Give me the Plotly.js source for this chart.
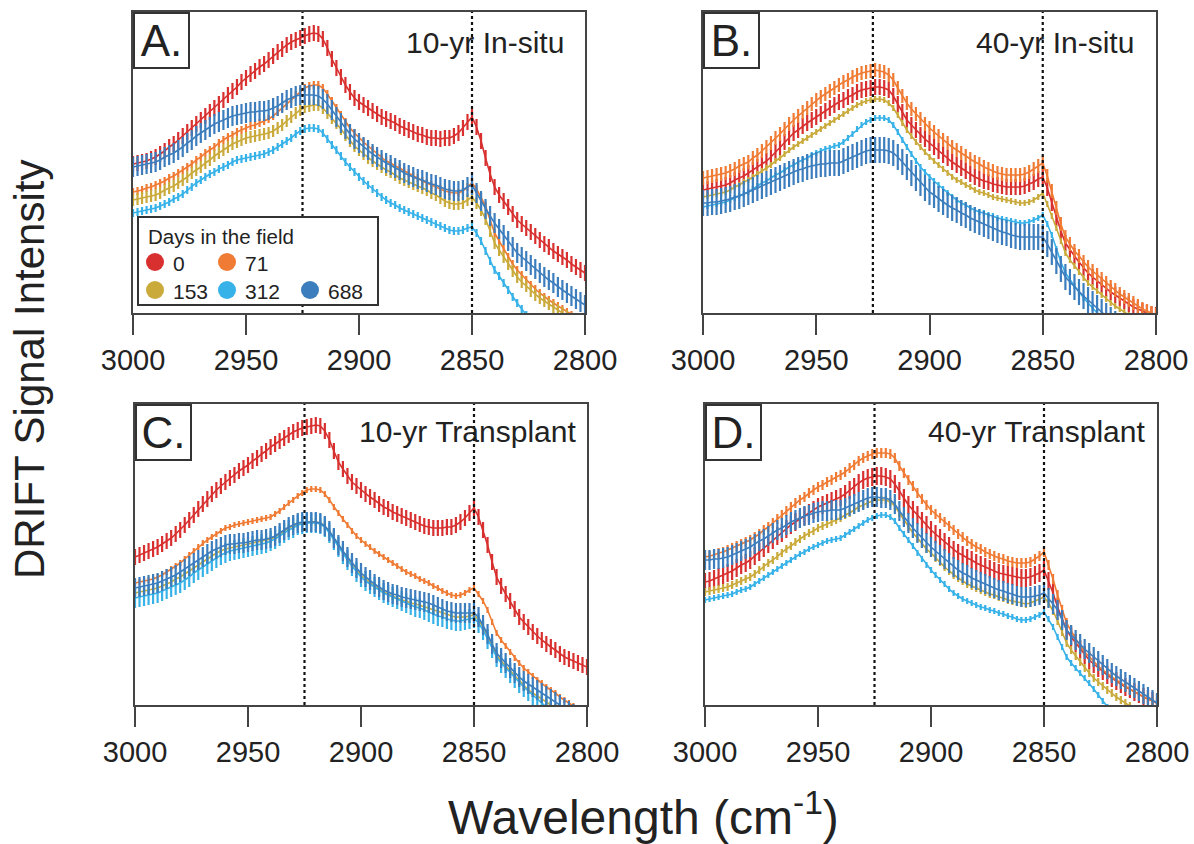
<!DOCTYPE html>
<html><head><meta charset="utf-8">
<script src="https://cdn.plot.ly/plotly-3.0.1.min.js"></script>
<style>html,body{margin:0;padding:0;background:#fff}#chart{width:1194px;height:844px}</style>
</head><body><div id="chart"></div>
<script>
// Wavenumber grid (cm-1)
const WAVENUMBER = [3000,2998,2996,2994,2992,2990,2988,2986,2984,2982,
2980,2978,2976,2974,2972,2970,2968,2966,2964,2962,
2960,2958,2956,2954,2952,2950,2948,2946,2944,2942,
2940,2938,2936,2934,2932,2930,2928,2926,2924,2922,
2920,2918,2916,2914,2912,2910,2908,2906,2904,2902,
2900,2898,2896,2894,2892,2890,2888,2886,2884,2882,
2880,2878,2876,2874,2872,2870,2868,2866,2864,2862,
2860,2858,2856,2854,2852,2850,2848,2846,2844,2842,
2840,2838,2836,2834,2832,2830,2828,2826,2824,2822,
2820,2818,2816,2814,2812,2810,2808,2806,2804,2802,2800];

const DAYS = ['0','71','153','312','688'];
const COLORS = ['#d7302f','#ef7b34','#c9aa3b','#37b2e8','#3c7dbd'];
const PANEL_LETTERS = ['A.','B.','C.','D.'];
const PANEL_TITLES = ['10-yr In-situ','40-yr In-situ','10-yr Transplant','40-yr Transplant'];
const XTICKS = [3000,2950,2900,2850,2800];
const REF_LINES = [2925,2850];

// ---- Panel A: 10-yr In-situ ----
const A_0 = [149,150,151,152,154,156,159,162,166,169,
173,177,181,185,189,193,197,201,205,209,
213,218,222,226,231,235,239,242,246,249,
253,257,261,264,268,271,273,275,277,279,
280,279,274,265,254,245,236,228,221,215,
211,208,205,202,199,196,194,192,190,187,
185,183,181,179,178,176,175,175,174,175,
175,177,180,185,191,196,186,172,155,139,
126,118,112,106,99,93,89,85,81,77,
73,69,66,62,59,56,53,49,46,43,40];
const A_71 = [121,122,123,125,126,128,130,132,135,137,
140,143,146,149,153,156,160,163,166,170,
173,176,178,181,183,185,187,188,190,192,
194,197,201,205,210,214,218,222,225,227,
228,228,225,219,212,205,198,191,185,180,
175,171,167,163,159,155,152,150,147,145,
142,140,137,135,132,130,128,126,124,122,
121,120,120,122,126,130,124,116,107,93,
80,72,64,56,49,43,38,33,28,24,
20,16,13,10,7,4,1,-2,-5,-8,-10];
const A_153 = [113,114,115,116,117,118,120,123,125,127,
130,133,136,140,143,146,150,153,157,160,
163,166,169,171,173,175,176,177,178,179,
180,182,185,188,192,196,200,203,206,207,
208,208,205,200,195,190,184,178,172,167,
163,159,155,152,149,146,143,141,138,135,
133,131,129,127,125,123,120,118,115,112,
110,109,109,110,113,116,110,103,94,82,
70,63,56,49,42,36,31,27,22,18,
15,12,9,6,3,0,-3,-6,-9,-12,-15];
const A_312 = [100,101,102,103,104,105,107,109,111,114,
116,119,123,126,130,133,136,139,141,144,
146,148,151,153,154,155,156,157,158,159,
161,163,166,169,172,175,179,182,184,185,
185,184,180,174,168,163,157,151,146,141,
136,132,128,124,120,116,113,110,108,105,
103,101,99,97,95,93,91,89,87,85,
83,82,82,83,85,86,80,72,62,52,
43,37,30,23,16,10,4,-2,-8,-14,
-20,-25,-30,-35,-40,-44,-48,-52,-56,-60,-64];
const A_688 = [146,147,148,149,150,151,153,156,158,160,
163,166,170,173,177,180,183,186,189,191,
193,195,197,198,199,200,201,201,202,202,
203,205,207,210,213,215,217,218,218,218,
218,217,214,209,203,196,190,184,179,174,
170,166,163,159,156,153,150,148,145,143,
140,138,136,134,133,131,129,128,126,124,
123,122,122,123,126,128,120,112,104,97,
90,84,78,72,66,60,56,52,48,44,
40,36,33,30,26,23,20,17,14,11,8];
const ERR_A = [8,4,6,4,10];

// ---- Panel B: 40-yr In-situ ----
const B_0 = [123,124,125,126,127,128,130,133,135,137,
140,143,146,149,152,156,161,166,171,176,
180,183,187,190,193,196,199,202,205,208,
211,213,216,218,221,223,224,225,226,226,
225,223,217,209,201,193,188,183,178,174,
170,166,162,158,155,151,148,145,142,139,
136,134,132,131,129,128,127,126,126,126,
126,127,129,131,134,136,125,110,95,82,
70,63,57,51,45,40,36,32,28,24,
21,18,15,12,9,6,4,2,0,-1,-2];
const B_71 = [135,136,137,138,139,140,142,144,147,149,
151,155,158,162,166,170,175,179,184,189,
193,197,201,205,209,213,216,219,222,225,
228,231,233,236,238,240,241,242,243,242,
241,238,233,225,217,210,204,199,194,189,
185,181,177,173,170,166,163,160,157,154,
151,149,146,144,142,140,139,138,138,138,
138,139,141,144,147,150,137,122,105,89,
76,69,62,57,51,46,42,38,34,30,
26,23,19,16,13,10,7,4,2,0,-2];
const B_153 = [116,117,118,119,120,121,123,126,128,131,
133,136,139,142,145,148,152,155,159,163,
166,169,172,175,178,181,184,187,190,193,
196,199,202,205,208,210,212,213,214,214,
213,210,205,198,190,183,177,171,166,161,
156,152,148,144,140,136,133,131,128,126,
123,121,120,118,116,115,114,113,112,111,
110,110,111,113,116,120,109,97,85,72,
60,53,47,41,35,30,26,22,18,14,
10,7,4,1,-2,-5,-8,-11,-14,-17,-20];
const B_312 = [106,107,108,109,110,111,113,115,117,119,
121,124,127,130,132,135,138,140,143,146,
148,151,153,155,158,160,162,164,165,167,
168,171,175,179,184,188,191,193,195,195,
195,193,188,181,173,166,159,152,146,141,
136,132,128,124,120,116,113,110,108,105,
103,101,100,98,97,95,94,93,92,91,
90,90,91,93,95,98,89,78,64,51,
40,33,27,21,15,10,5,0,-5,-10,
-15,-20,-25,-30,-35,-40,-45,-50,-55,-60,-65];
const B_688 = [110,110,111,111,112,113,114,116,117,119,
121,123,125,127,129,131,133,135,137,139,
141,143,144,146,147,148,149,149,150,150,
150,152,154,156,158,160,162,163,163,163,
163,162,160,156,151,146,140,135,130,125,
121,118,114,111,108,105,103,100,98,95,
93,91,89,87,85,83,81,80,78,77,
76,76,76,76,76,76,69,61,52,44,
36,31,26,21,17,13,9,5,1,-3,
-7,-11,-15,-19,-23,-27,-31,-35,-39,-43,-47];
const ERR_B = [8,7,3,3,13];

// ---- Panel C: 10-yr Transplant ----
const C_0 = [148,150,152,154,156,158,161,164,167,171,
175,180,185,190,196,201,206,211,215,219,
223,227,230,234,237,240,244,247,251,254,
258,261,264,267,270,273,275,277,278,279,
280,279,274,265,254,243,236,229,223,219,
215,211,208,205,201,198,196,193,191,189,
187,185,183,181,179,178,177,177,177,178,
178,180,183,187,192,197,188,175,160,143,
128,119,111,104,96,88,83,78,73,69,
65,61,58,55,51,48,46,44,42,40,38];
const C_71 = [122,123,124,125,126,128,130,133,136,139,
142,146,150,154,158,162,165,168,171,174,
177,178,180,181,182,183,184,185,186,187,
188,191,194,198,202,205,209,212,215,216,
216,215,211,205,198,192,186,180,174,169,
165,161,158,154,151,148,145,142,139,136,
133,131,129,126,124,122,119,117,114,112,
110,109,110,112,115,117,111,104,95,83,
72,65,59,53,47,42,37,33,29,25,
22,18,15,12,8,5,2,-1,-4,-7,-10];
const C_153 = [112,113,114,115,116,117,119,121,123,126,
128,131,134,137,140,143,146,149,152,154,
156,157,158,159,160,161,162,163,164,165,
166,168,171,174,177,179,181,182,183,183,
183,182,179,173,166,159,153,147,141,135,
130,126,122,119,116,113,111,109,107,105,
104,102,101,100,98,97,95,94,92,91,
89,88,88,88,89,90,85,78,69,59,
50,44,39,34,29,24,19,15,12,9,
6,3,0,-3,-6,-9,-12,-15,-18,-21,-24];
const C_312 = [107,108,109,110,111,112,114,116,118,120,
122,125,128,132,135,138,141,144,147,150,
152,154,155,156,157,158,159,160,161,162,
164,166,169,172,175,177,180,181,182,182,
182,181,178,172,165,158,151,145,139,133,
128,124,121,118,115,112,110,108,106,104,
102,100,98,97,95,93,91,89,88,86,
85,84,84,85,86,87,82,75,66,57,
48,42,37,32,27,22,18,14,10,6,
2,-2,-6,-10,-14,-18,-22,-26,-30,-34,-38];
const C_688 = [117,118,119,120,121,122,124,126,128,130,
133,136,139,142,145,148,151,154,156,158,
160,161,161,162,162,163,164,165,165,166,
167,169,172,175,178,180,182,183,183,183,
183,182,179,174,167,160,154,148,142,137,
132,128,125,121,118,115,113,111,110,108,
107,106,105,104,103,102,100,98,96,94,
93,92,92,92,92,92,88,80,71,61,
52,47,42,37,32,28,24,21,18,15,
12,9,6,3,0,-3,-6,-9,-12,-15,-18];
const ERR_C = [8,3,4,10,10];

// ---- Panel D: 40-yr Transplant ----
const D_0 = [123,124,126,128,130,132,134,137,140,142,
145,149,153,157,161,165,169,172,176,180,
183,186,189,192,195,198,200,202,204,206,
208,211,215,218,222,225,227,228,229,229,
228,226,221,214,207,200,195,190,184,180,
175,171,167,163,159,155,152,150,147,145,
142,140,138,136,134,132,131,130,129,128,
127,127,128,130,132,135,124,112,98,86,
75,68,62,56,50,45,41,37,34,30,
27,24,21,18,16,13,11,8,6,4,2];
const D_71 = [148,149,150,152,153,155,157,159,161,163,
165,168,171,175,178,182,186,190,194,198,
202,205,208,212,215,218,220,223,225,228,
230,233,237,240,244,247,249,251,252,252,
252,251,247,239,232,225,219,212,206,200,
195,191,187,183,179,175,171,168,164,161,
158,156,153,151,149,147,146,144,143,142,
142,142,143,146,149,153,140,126,110,95,
82,74,66,59,53,48,43,39,35,31,
28,25,22,19,16,13,11,8,6,4,2];
const D_153 = [113,114,115,116,117,118,120,122,124,126,
128,131,135,138,142,145,149,152,156,159,
163,166,169,172,174,177,179,181,183,185,
187,190,192,195,198,200,202,204,205,205,
205,203,199,192,185,178,172,167,161,156,
152,147,143,138,134,130,127,124,121,119,
117,115,113,111,110,108,107,105,104,103,
102,101,102,104,106,108,102,94,84,73,
62,55,49,43,37,32,27,23,19,15,
12,8,5,2,-1,-4,-7,-10,-13,-16,-19];
const D_312 = [105,106,107,108,109,110,111,113,115,116,
118,121,124,127,130,133,136,139,142,145,
148,151,153,156,158,160,162,164,165,166,
167,170,173,176,179,182,185,187,189,190,
190,188,184,177,171,165,159,152,146,140,
135,130,125,121,116,112,109,106,104,102,
100,98,97,95,94,92,91,89,88,86,
85,85,86,88,90,93,86,78,68,58,
48,42,37,32,27,22,16,10,4,-2,
-8,-13,-18,-23,-28,-33,-38,-43,-48,-53,-58];
const D_688 = [145,145,146,146,147,148,150,152,154,156,
158,161,164,166,169,172,175,177,180,183,
185,187,189,190,192,193,194,194,195,195,
195,197,199,201,203,205,207,208,208,207,
207,205,201,194,188,182,177,172,167,162,
158,154,150,146,142,138,135,132,130,127,
125,123,121,119,117,115,114,112,111,109,
108,108,108,109,110,112,107,101,95,85,
75,70,65,61,56,52,48,44,40,36,
32,29,26,23,20,17,14,11,8,5,2];
const ERR_D = [9,5,4,3,10];

// ---- layout geometry (pixels in 1194x844 page) ----
const W = 1194, H = 844;
const px = v => v / W;
const py = v => 1 - v / H;
const FONT = 'Liberation Sans, Arial, Helvetica, sans-serif';
const TXT = '#222222';

const PANELS = [
  {x0:133, x1:585, y0:12,  y1:313, series:[A_0,A_71,A_153,A_312,A_688], err:ERR_A, titleX:566,  titleY:42},
  {x0:703, x1:1156,y0:12,  y1:313, series:[B_0,B_71,B_153,B_312,B_688], err:ERR_B, titleX:1136, titleY:42},
  {x0:135, x1:587, y0:404, y1:705, series:[C_0,C_71,C_153,C_312,C_688], err:ERR_C, titleX:578,  titleY:432},
  {x0:705, x1:1157,y0:404, y1:705, series:[D_0,D_71,D_153,D_312,D_688], err:ERR_D, titleX:1147, titleY:432}
];

const traces = [];
const layout = {
  width: W, height: H,
  margin: {l:0, r:0, t:0, b:0},
  paper_bgcolor: '#ffffff', plot_bgcolor: '#ffffff',
  showlegend: false,
  font: {family: FONT, color: TXT},
  shapes: [], annotations: []
};

PANELS.forEach((p, i) => {
  const n = i === 0 ? '' : String(i + 1);
  const xa = 'x' + n, ya = 'y' + n;
  p.series.forEach((ys, k) => {
    traces.push({
      type: 'scatter', mode: 'lines',
      x: WAVENUMBER, y: ys,
      xaxis: xa, yaxis: ya,
      name: DAYS[k] + ' days',
      line: {color: COLORS[k], width: 1.6},
      error_y: {type: 'constant', value: p.err[k], visible: true,
                color: COLORS[k], thickness: 2.2, width: 0},
      hoverinfo: 'skip'
    });
  });
  layout['xaxis' + n] = {
    domain: [px(p.x0), px(p.x1)], anchor: ya,
    range: [3000, 2800], tickvals: XTICKS, ticktext: XTICKS.map(String),
    ticks: 'outside', ticklen: 20, tickwidth: 2, tickcolor: '#444',
    tickfont: {size: 29, color: TXT, family: FONT},
    showline: true, mirror: true, linecolor: '#444', linewidth: 2,
    showgrid: false, zeroline: false
  };
  layout['yaxis' + n] = {
    domain: [py(p.y1), py(p.y0)], anchor: xa,
    range: [0, 301], showticklabels: false, ticks: '',
    showline: true, mirror: true, linecolor: '#444', linewidth: 2,
    showgrid: false, zeroline: false
  };
  REF_LINES.forEach(w => {
    layout.shapes.push({type: 'line', xref: xa, yref: ya + ' domain',
      x0: w, x1: w, y0: 0, y1: 1, layer: 'above',
      line: {color: '#111', width: 2.2, dash: 'dot'}});
  });
  // panel letter box
  layout.annotations.push({
    xref: 'paper', yref: 'paper', x: px(p.x0), y: py(p.y0),
    xanchor: 'left', yanchor: 'top', text: PANEL_LETTERS[i], showarrow: false,
    width: 53, height: 53, borderpad: 0, borderwidth: 2, bordercolor: '#333',
    bgcolor: '#ffffff', font: {size: 44, color: TXT, family: FONT}
  });
  // panel title
  layout.annotations.push({
    xref: 'paper', yref: 'paper', x: px(p.titleX), y: py(p.titleY),
    xanchor: 'right', yanchor: 'middle', text: PANEL_TITLES[i], showarrow: false,
    font: {size: 30, color: TXT, family: FONT}
  });
});

// legend box in panel A
layout.shapes.push({type: 'rect', xref: 'paper', yref: 'paper',
  x0: px(138), x1: px(378), y0: py(305), y1: py(217), layer: 'above',
  fillcolor: '#ffffff', line: {color: '#333', width: 2}});
layout.annotations.push({xref: 'paper', yref: 'paper', x: px(146), y: py(236),
  xanchor: 'left', yanchor: 'middle', text: 'Days in the field', showarrow: false,
  font: {size: 20.5, color: TXT, family: FONT}});
const LEG_POS = [[155,262],[227,262],[155,290],[227,290],[310,290]];
LEG_POS.forEach((pos, k) => {
  const r = 9;
  layout.shapes.push({type: 'circle', xref: 'paper', yref: 'paper',
    x0: px(pos[0] - r), x1: px(pos[0] + r), y0: py(pos[1] + r), y1: py(pos[1] - r),
    layer: 'above', fillcolor: COLORS[k], line: {width: 0}});
  layout.annotations.push({xref: 'paper', yref: 'paper', x: px(pos[0] + 16), y: py(pos[1] + 1),
    xanchor: 'left', yanchor: 'middle', text: DAYS[k], showarrow: false,
    font: {size: 21, color: TXT, family: FONT}});
});

// axis titles
layout.annotations.push({xref: 'paper', yref: 'paper', x: px(30), y: py(370),
  xanchor: 'center', yanchor: 'middle', textangle: -90, text: 'DRIFT Signal Intensity',
  showarrow: false, font: {size: 42, color: TXT, family: FONT}});
layout.annotations.push({xref: 'paper', yref: 'paper', x: px(643), y: py(814),
  xanchor: 'center', yanchor: 'middle', text: 'Wavelength (cm<sup>-1</sup>)',
  showarrow: false, font: {size: 48, color: TXT, family: FONT}});

Plotly.newPlot('chart', traces, layout, {staticPlot: true, displayModeBar: false});
</script></body></html>
